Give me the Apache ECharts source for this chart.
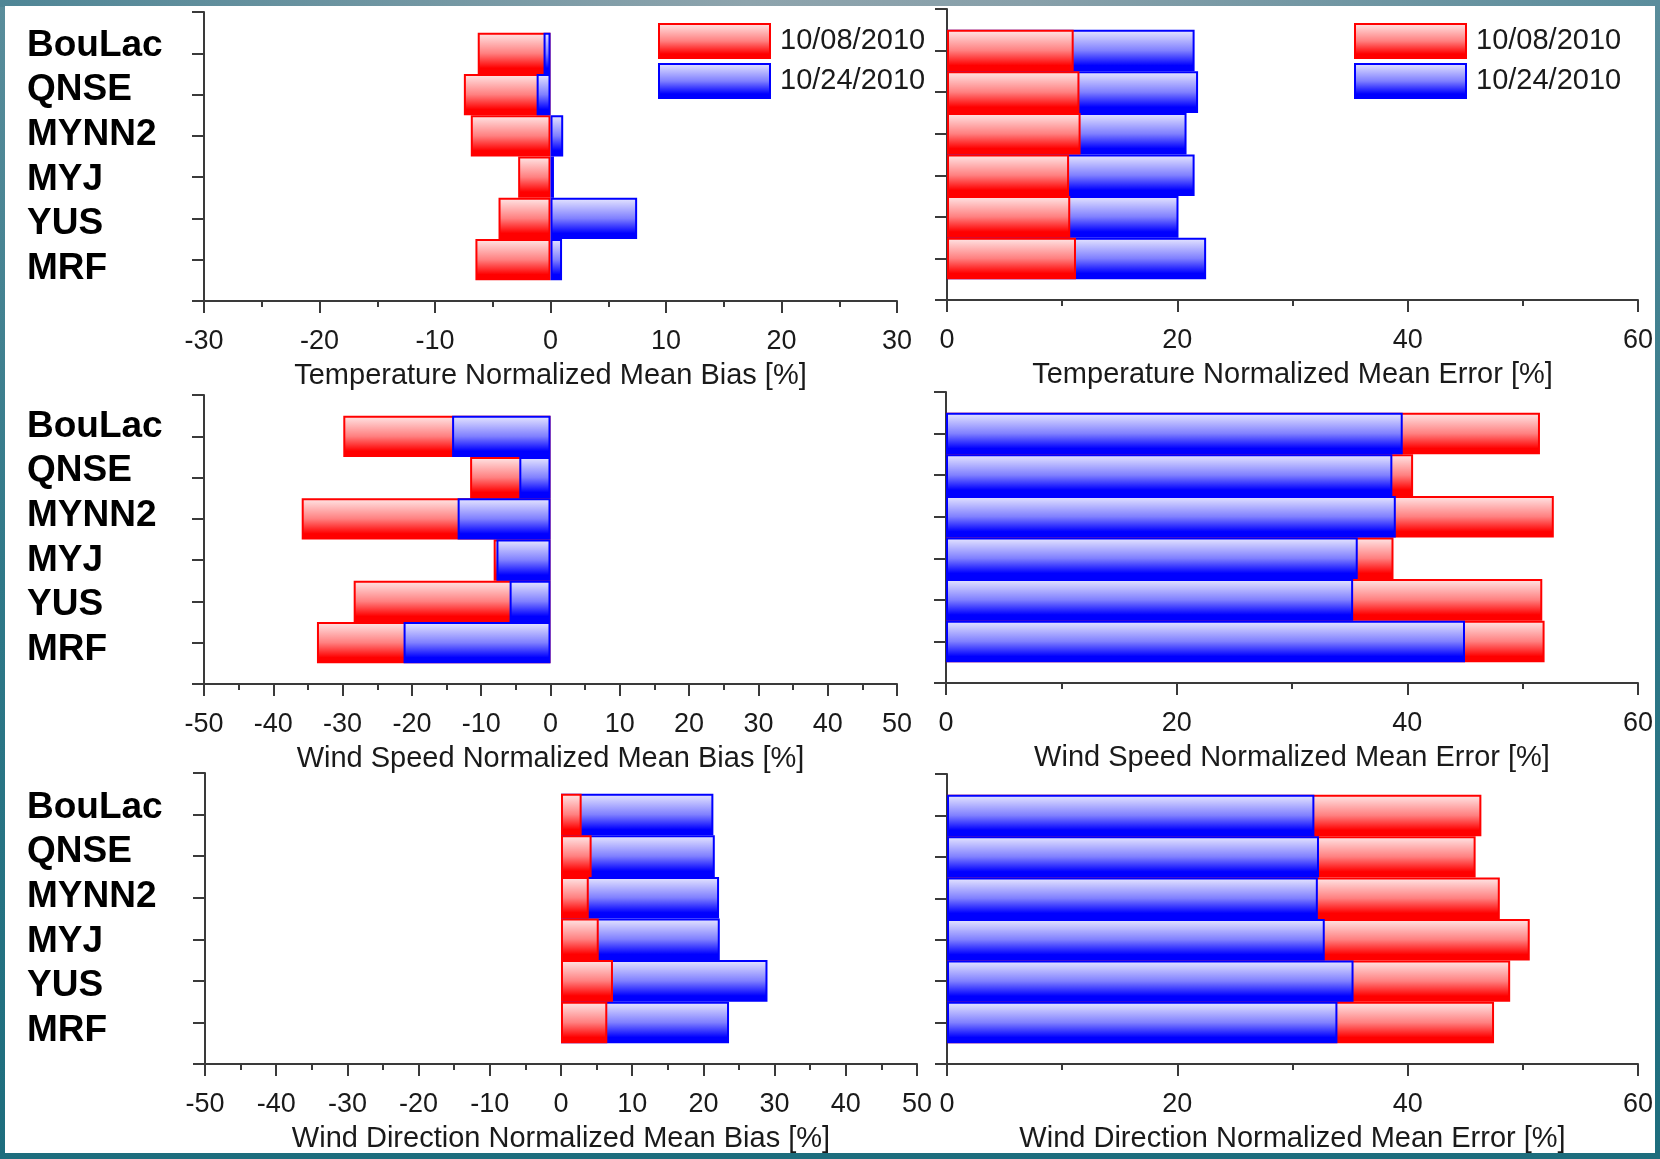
<!DOCTYPE html>
<html><head><meta charset="utf-8">
<script src="https://cdn.jsdelivr.net/npm/echarts@6/dist/echarts.min.js"></script>
<style>
html,body{margin:0;padding:0;width:1660px;height:1159px;overflow:hidden;background:linear-gradient(180deg,#5a8d9b 0%,#2f7888 50%,#1d6d7d 100%);}
#topband{position:absolute;left:0;top:0;width:1660px;height:7px;background:linear-gradient(90deg,#4f8696 0%,#8ea4ad 45%,#88a0aa 62%,#5a8d9c 100%);}
#paper{position:absolute;left:5px;top:6px;width:1650px;height:1147px;background:#fff;}
#chart{position:absolute;left:0;top:0;width:1660px;height:1159px;}
</style></head><body>
<div id="topband"></div><div id="paper"></div><div id="chart"></div>
<script>
const categories = ['BouLac', 'QNSE', 'MYNN2', 'MYJ', 'YUS', 'MRF'];
const seriesNames = ['10/08/2010', '10/24/2010'];

const tempBias_1008 = [-6.3, -7.5, -6.9, -2.8, -4.5, -6.5];
const tempBias_1024 = [-0.6, -1.2, 1.1, 0.3, 7.5, 1.0];
const tempErr_1008 = [11.0, 11.5, 11.6, 10.6, 10.7, 11.2];
const tempErr_1024 = [21.5, 21.8, 20.8, 21.5, 20.1, 22.5];
const wsBias_1008 = [-29.9, -11.6, -35.9, -8.2, -28.4, -33.7];
const wsBias_1024 = [-14.2, -4.5, -13.4, -7.8, -5.9, -21.2];
const wsErr_1008 = [51.5, 40.5, 52.7, 38.8, 51.7, 51.9];
const wsErr_1024 = [39.6, 38.7, 39.0, 35.7, 35.3, 45.0];
const wdBias_1008 = [2.9, 4.3, 3.9, 5.3, 7.3, 6.5];
const wdBias_1024 = [21.4, 21.6, 22.2, 22.3, 29.0, 23.6];
const wdErr_1008 = [46.4, 45.9, 48.0, 50.6, 48.9, 47.5];
const wdErr_1024 = [31.9, 32.3, 32.2, 32.8, 35.3, 33.9];

const axisTitles = [
  'Temperature Normalized Mean Bias [%]',
  'Temperature Normalized Mean Error [%]',
  'Wind Speed Normalized Mean Bias [%]',
  'Wind Speed Normalized Mean Error [%]',
  'Wind Direction Normalized Mean Bias [%]',
  'Wind Direction Normalized Mean Error [%]'
];
const biasRange = [-30, 30, 10];
const biasRangeWind = [-50, 50, 10];
const errRange = [0, 60, 20];

const FONT = '"Liberation Sans", Arial, Helvetica, sans-serif';
const AX = '#3a3a3a';

const panels = [
  {d: [tempBias_1008, tempBias_1024], r: biasRange, grid: {left: 204, top: 12, width: 693, height: 289}},
  {d: [tempErr_1008, tempErr_1024], r: errRange, grid: {left: 947, top: 9, width: 691, height: 291}},
  {d: [wsBias_1008, wsBias_1024], r: biasRangeWind, grid: {left: 204, top: 395, width: 693, height: 289}},
  {d: [wsErr_1008, wsErr_1024], r: errRange, grid: {left: 946, top: 392, width: 692, height: 291}},
  {d: [wdBias_1008, wdBias_1024], r: biasRangeWind, grid: {left: 205, top: 773, width: 712, height: 291}},
  {d: [wdErr_1008, wdErr_1024], r: errRange, grid: {left: 947, top: 774, width: 691, height: 290}}
];
const labelRowsTop = [23, 404, 785];

const paddedCats = [''].concat(categories, ['']);
const fills = [
  new echarts.graphic.LinearGradient(0, 0, 0, 1, [
    {offset: 0, color: '#ffe8e8'}, {offset: 0.5, color: '#ff8080'}, {offset: 0.86, color: '#ff0000'}, {offset: 1, color: '#ff0000'}]),
  new echarts.graphic.LinearGradient(0, 0, 0, 1, [
    {offset: 0, color: '#e8e8ff'}, {offset: 0.5, color: '#8080ff'}, {offset: 0.86, color: '#0000ff'}, {offset: 1, color: '#0000ff'}])
];
const borders = ['#ff0000', '#0000ff'];

const grid = [], xAxis = [], yAxis = [], series = [];
panels.forEach((p, i) => {
  grid.push(p.grid);
  xAxis.push({
    type: 'value', gridIndex: i, min: p.r[0], max: p.r[1], interval: p.r[2],
    name: axisTitles[i], nameLocation: 'middle', nameGap: 60,
    nameTextStyle: {fontSize: 29, color: '#1a1a1a', fontFamily: FONT},
    axisLine: {show: true, onZero: false, lineStyle: {color: AX, width: 2}},
    axisTick: {show: true, length: 12, lineStyle: {color: AX, width: 2}},
    minorTick: {show: true, splitNumber: 2, length: 6, lineStyle: {color: AX, width: 2}},
    splitLine: {show: false},
    axisLabel: {fontSize: 27, color: '#1a1a1a', fontFamily: FONT, margin: 27, showMinLabel: true, showMaxLabel: true}
  });
  yAxis.push({
    type: 'category', gridIndex: i, data: paddedCats, inverse: true, boundaryGap: false,
    axisLine: {show: true, onZero: false, lineStyle: {color: AX, width: 2}},
    axisTick: {show: true, length: 12, interval: 0, lineStyle: {color: AX, width: 2}},
    axisLabel: {show: false}, splitLine: {show: false}
  });
  const mag = p.d.map(arr => arr.reduce((s, v) => s + Math.abs(v), 0));
  p.d.forEach((arr, k) => {
    series.push({
      type: 'bar', name: seriesNames[k], xAxisIndex: i, yAxisIndex: i,
      data: [null].concat(arr, [null]),
      barWidth: '100%', barGap: '-100%',
      z: mag[k] <= mag[1 - k] ? 4 : 3,
      itemStyle: {color: fills[k], borderColor: borders[k], borderWidth: 2},
      emphasis: {disabled: true}
    });
  });
});
labelRowsTop.forEach((t) => {
  const gi = grid.length;
  grid.push({left: 18, top: t, width: 1, height: 268});
  xAxis.push({type: 'value', gridIndex: gi, show: false});
  yAxis.push({
    type: 'category', gridIndex: gi, data: categories, inverse: true, position: 'right',
    axisLine: {show: false}, axisTick: {show: false}, splitLine: {show: false},
    axisLabel: {show: true, interval: 0, margin: 8, fontSize: 37, fontWeight: 'bold', color: '#000', fontFamily: FONT}
  });
});

const legendBase = {
  data: seriesNames, orient: 'vertical', top: 23, padding: 0,
  itemWidth: 111, itemHeight: 34, itemGap: 4, icon: 'rect', selectedMode: false,
  textStyle: {fontSize: 29, lineHeight: 24, color: '#1a1a1a', fontFamily: FONT, padding: [10, 0, 0, 5]}
};

const chart = echarts.init(document.getElementById('chart'), null, {renderer: 'canvas'});
chart.setOption({
  backgroundColor: 'transparent',
  animation: false,
  textStyle: {fontFamily: FONT},
  legend: [Object.assign({left: 658}, legendBase), Object.assign({left: 1354}, legendBase)],
  grid: grid, xAxis: xAxis, yAxis: yAxis, series: series
});
</script></body></html>
